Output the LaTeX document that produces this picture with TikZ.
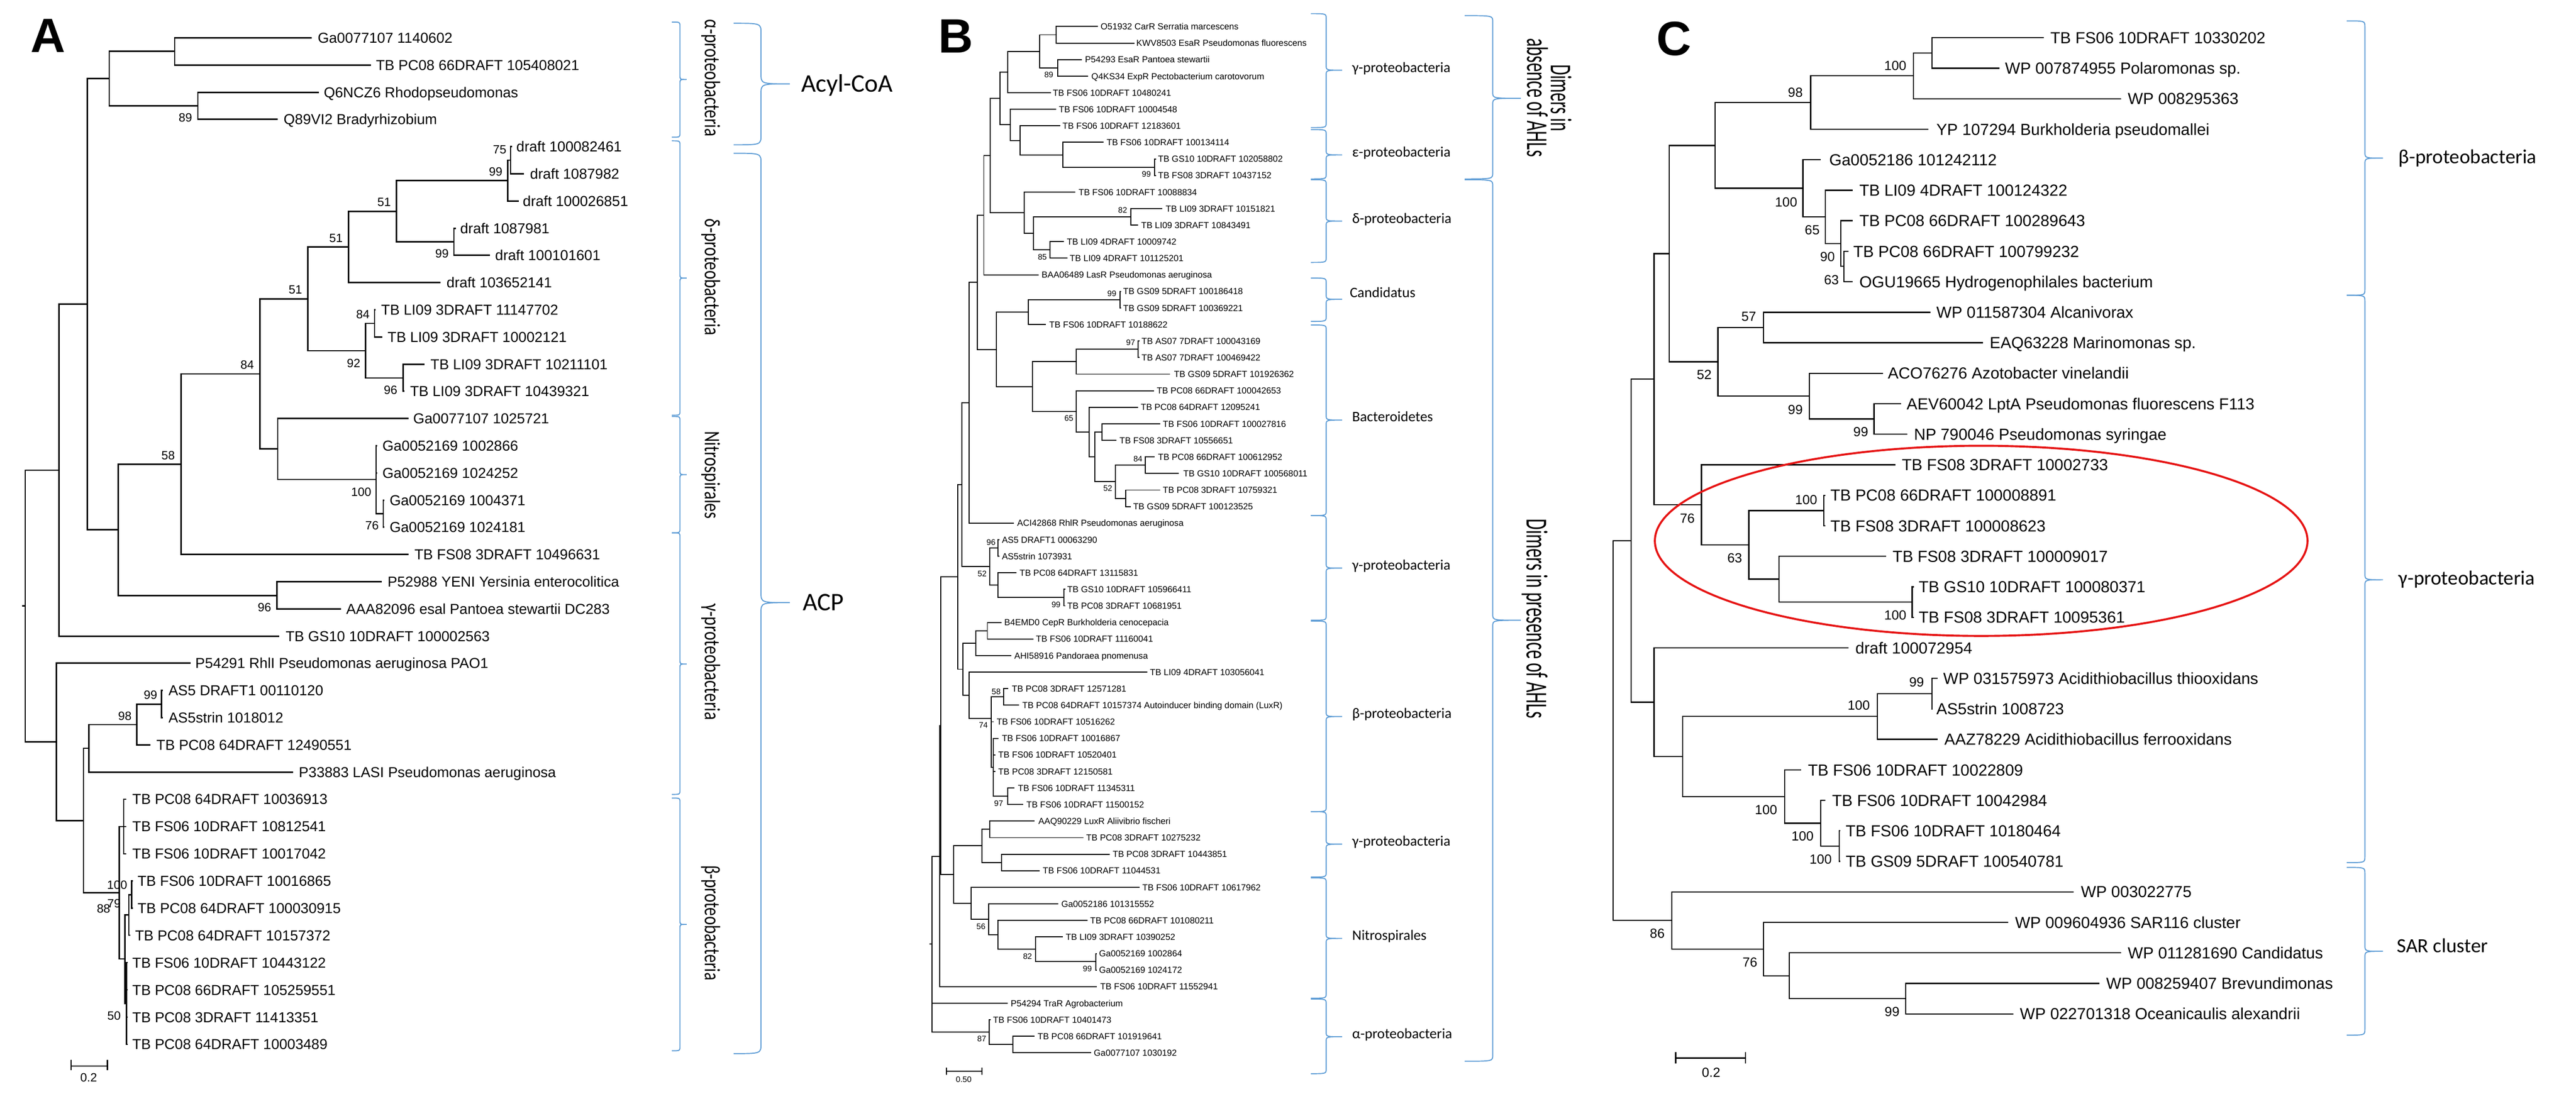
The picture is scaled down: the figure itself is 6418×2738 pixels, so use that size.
\documentclass[tikz,border=0pt]{standalone}
\usepackage{fontspec}
\setmainfont{Liberation Sans}
\newfontfamily\calfont{Carlito}
\definecolor{brblue}{RGB}{91,155,213}
\definecolor{ovred}{RGB}{230,20,20}
\newcommand\Lf[6]{\coordinate (#2) at (#3,#4); \node[#1] (#2l) at (#5,#4) {#6};}
\newcommand\Nd[3]{\coordinate (#1) at (#2,#3);}
\newcommand\Cn[2]{\foreach \ch in {#2}{\draw (#1) |- (\ch);}}
\newcommand\Bs[5]{\node[#1] (#2) at (#3,#4) {#5};}
\newcommand\RBr[7]{\draw[brk] (#1,#2) .. controls ({#1+#4},#2) .. ({#1+#4},{#2+#6}) -- ({#1+#4},{#7-#6}) .. controls ({#1+#4},#7) .. ({#1+#4+#5},#7) .. controls ({#1+#4},#7) .. ({#1+#4},{#7+#6}) -- ({#1+#4},{#3-#6}) .. controls ({#1+#4},#3) .. (#1,#3);}
\tikzset{
 lA/.style={anchor=west,inner sep=0pt,text height=5.16pt,text depth=0pt,font=\fontsize{7.2}{8.6}\selectfont},
 lB/.style={anchor=west,inner sep=0pt,text height=3.15pt,text depth=0pt,font=\fontsize{4.4}{5.3}\selectfont},
 lC/.style={anchor=west,inner sep=0pt,text height=5.73pt,text depth=0pt,font=\fontsize{8}{9.6}\selectfont},
 bsA/.style={inner sep=0pt,text height=4.3pt,text depth=0pt,font=\fontsize{6}{7}\selectfont},
 bsB/.style={inner sep=0pt,text height=2.86pt,text depth=0pt,font=\fontsize{4}{5}\selectfont},
 bsC/.style={inner sep=0pt,text height=4.73pt,text depth=0pt,font=\fontsize{6.6}{8}\selectfont},
 brk/.style={draw=brblue,line width=0.5pt},
 grpB/.style={anchor=base west,inner sep=0pt,font=\calfont\fontsize{7.2}{8.6}\selectfont},
 grpC/.style={anchor=base west,inner sep=0pt,font=\calfont\fontsize{10}{12}\selectfont},
 rotA/.style={rotate=-90,anchor=base,inner sep=0pt,font=\calfont\fontsize{11}{13}\selectfont},
 rotB/.style={rotate=-90,anchor=base,inner sep=0pt,font=\calfont\fontsize{15.2}{18}\selectfont},
 rotBb/.style={rotate=-90,anchor=base,inner sep=0pt,font=\calfont\fontsize{15}{18}\selectfont},
 panel/.style={inner sep=0pt,font=\bfseries\fontsize{24}{28}\selectfont},
 outerA/.style={anchor=west,inner sep=0pt,text height=8.1pt,text depth=0pt,font=\calfont\fontsize{12.6}{15}\selectfont},
}
\begin{document}
\begin{tikzpicture}[x=0.2pt,y=-0.2pt,line join=miter]
\useasboundingbox (0,0) rectangle (6418,2738);
\fill[white] (0,0) rectangle (6418,2738);
% ================= PANEL A =================
\node[panel] (pA) at (120,89) {A};
\begin{scope}[line width=0.7pt]
\Lf{lA}{a0}{777}{94}{790}{Ga0077107 1140602}
\Lf{lA}{a1}{924}{162}{935}{TB PC08 66DRAFT 105408021}
\Lf{lA}{a2}{794}{230}{805}{Q6NCZ6 Rhodopseudomonas}
\Lf{lA}{a3}{692}{297}{705}{Q89VI2 Bradyrhizobium}
\Lf{lA}{a4}{1276}{365}{1285}{draft 100082461}
\Lf{lA}{a5}{1305}{433}{1319}{draft 1087982}
\Lf{lA}{a6}{1292}{501}{1301}{draft 100026851}
\Lf{lA}{a7}{1136}{569}{1145}{draft 1087981}
\Lf{lA}{a8}{1221}{636}{1232}{draft 100101601}
\Lf{lA}{a9}{1098}{704}{1111}{draft 103652141}
\Lf{lA}{a10}{936}{772}{948}{TB LI09 3DRAFT 11147702}
\Lf{lA}{a11}{953}{840}{964}{TB LI09 3DRAFT 10002121}
\Lf{lA}{a12}{1058}{908}{1071}{TB LI09 3DRAFT 10211101}
\Lf{lA}{a13}{1008}{975}{1020}{TB LI09 3DRAFT 10439321}
\Lf{lA}{a14}{1018}{1043}{1028}{Ga0077107 1025721}
\Lf{lA}{a15}{940}{1111}{951}{Ga0052169 1002866}
\Lf{lA}{a16}{940}{1179}{951}{Ga0052169 1024252}
\Lf{lA}{a17}{958}{1247}{969}{Ga0052169 1004371}
\Lf{lA}{a18}{958}{1314}{969}{Ga0052169 1024181}
\Lf{lA}{a19}{1018}{1382}{1031}{TB FS08 3DRAFT 10496631}
\Lf{lA}{a20}{951}{1450}{964}{P52988 YENI Yersinia enterocolitica}
\Lf{lA}{a21}{850}{1518}{861}{AAA82096 esal Pantoea stewartii DC283}
\Lf{lA}{a22}{696}{1586}{710}{TB GS10 10DRAFT 100002563}
\Lf{lA}{a23}{475}{1653}{485}{P54291 RhlI Pseudomonas aeruginosa PAO1}
\Lf{lA}{a24}{406}{1721}{418}{AS5 DRAFT1 00110120}
\Lf{lA}{a25}{406}{1789}{418}{AS5strin 1018012}
\Lf{lA}{a26}{375}{1857}{388}{TB PC08 64DRAFT 12490551}
\Lf{lA}{a27}{730}{1925}{743}{P33883 LASI Pseudomonas aeruginosa}
\Lf{lA}{a28}{315}{1992}{328}{TB PC08 64DRAFT 10036913}
\Lf{lA}{a29}{315}{2060}{328}{TB FS06 10DRAFT 10812541}
\Lf{lA}{a30}{315}{2128}{328}{TB FS06 10DRAFT 10017042}
\Lf{lA}{a31}{331}{2196}{341}{TB FS06 10DRAFT 10016865}
\Lf{lA}{a32}{331}{2264}{341}{TB PC08 64DRAFT 100030915}
\Lf{lA}{a33}{325}{2331}{335}{TB PC08 64DRAFT 10157372}
\Lf{lA}{a34}{318}{2399}{328}{TB FS06 10DRAFT 10443122}
\Lf{lA}{a35}{318}{2467}{328}{TB PC08 66DRAFT 105259551}
\Lf{lA}{a36}{318}{2535}{328}{TB PC08 3DRAFT 11413351}
\Lf{lA}{a37}{318}{2603}{328}{TB PC08 64DRAFT 10003489}
\Nd{an1}{435}{128} \Cn{an1}{a0,a1}
\Nd{an2}{493}{264} \Cn{an2}{a2,a3}
\Nd{an3}{272}{196} \Cn{an3}{an1,an2}
\Nd{an4}{1272}{399} \Cn{an4}{a4,a5}
\Nd{an5}{1265}{450} \Cn{an5}{an4,a6}
\Nd{an6}{1131}{603} \Cn{an6}{a7,a8}
\Nd{an7}{988}{527} \Cn{an7}{an5,an6}
\Nd{an8}{868}{615} \Cn{an8}{an7,a9}
\Nd{an9}{933}{806} \Cn{an9}{a10,a11}
\Nd{an10}{1004}{942} \Cn{an10}{a12,a13}
\Nd{an11}{911}{874} \Cn{an11}{an9,an10}
\Nd{an12}{767}{745} \Cn{an12}{an8,an11}
\Nd{an13}{955}{1280} \Cn{an13}{a17,a18}
\Nd{an14}{937}{1195} \Cn{an14}{a15,a16,an13}
\Nd{an15}{692}{1119} \Cn{an15}{a14,an14}
\Nd{an16}{648}{932} \Cn{an16}{an12,an15}
\Nd{an17}{451}{1157} \Cn{an17}{an16,a19}
\Nd{an18}{690}{1484} \Cn{an18}{a20,a21}
\Nd{an19}{295}{1320} \Cn{an19}{an17,an18}
\Nd{an20}{218}{758} \Cn{an20}{an3,an19}
\Nd{an21}{147}{1172} \Cn{an21}{an20,a22}
\Nd{an22}{402}{1755} \Cn{an22}{a24,a25}
\Nd{an23}{341}{1806} \Cn{an23}{an22,a26}
\Nd{an24}{221}{1865} \Cn{an24}{an23,a27}
\Nd{an25}{308}{2060} \Cn{an25}{a28,a29,a30}
\Nd{an26}{328}{2230} \Cn{an26}{a31,a32}
\Nd{an27}{321}{2280} \Cn{an27}{an26,a33}
\Nd{an28}{315}{2501} \Cn{an28}{a34,a35,a36,a37}
\Nd{an29}{311}{2390} \Cn{an29}{an27,an28}
\Nd{an30}{297}{2225} \Cn{an30}{an25,an29}
\Nd{an31}{208}{2045} \Cn{an31}{an24,an30}
\Nd{an32}{141}{1849} \Cn{an32}{a23,an31}
\Nd{anr}{63}{1510} \Cn{anr}{an21,an32}
\coordinate (anrs) at (55,1510); \draw (anr) -- (anrs);
% scale bar A
\coordinate (sA1) at (177,2657); \coordinate (sA2) at (268,2657);
\coordinate (sA1t) at (177,2641); \coordinate (sA1b) at (177,2667);
\coordinate (sA2t) at (268,2641); \coordinate (sA2b) at (268,2667);
\draw (sA1) -- (sA2); \draw (sA1t) -- (sA1b); \draw (sA2t) -- (sA2b);
\end{scope}
\node[bsA] (sAl) at (221,2686) {0.2};
\Bs{bsA}{bA1}{462}{293}{89}
\Bs{bsA}{bA2}{1245}{373}{75}
\Bs{bsA}{bA3}{1235}{427}{99}
\Bs{bsA}{bA4}{957}{503}{51}
\Bs{bsA}{bA5}{1101}{632}{99}
\Bs{bsA}{bA6}{837}{593}{51}
\Bs{bsA}{bA7}{736}{721}{51}
\Bs{bsA}{bA8}{904}{783}{84}
\Bs{bsA}{bA9}{881}{905}{92}
\Bs{bsA}{bA10}{616}{909}{84}
\Bs{bsA}{bA11}{973}{972}{96}
\Bs{bsA}{bA12}{419}{1135}{58}
\Bs{bsA}{bA13}{900}{1226}{100}
\Bs{bsA}{bA14}{927}{1310}{76}
\Bs{bsA}{bA15}{659}{1514}{96}
\Bs{bsA}{bA16}{375}{1732}{99}
\Bs{bsA}{bA17}{311}{1784}{98}
\Bs{bsA}{bA18}{292}{2205}{100}
\Bs{bsA}{bA19}{258}{2264}{88}
\Bs{bsA}{bA20}{284}{2252}{79}
\Bs{bsA}{bA21}{284}{2531}{50}
% brackets A
\RBr{1674}{55}{342}{20}{17}{10}{198}
\RBr{1674}{351}{1035}{20}{17}{10}{693}
\RBr{1674}{1038}{1328}{20}{17}{10}{1183}
\RBr{1674}{1328}{1980}{20}{17}{10}{1655}
\RBr{1674}{1989}{2619}{20}{17}{10}{2304}
\RBr{1828}{58}{361}{68}{72}{25}{209}
\RBr{1828}{382}{2626}{68}{72}{25}{1502}
\node[rotA] (gA1) at (1757,194) {\resizebox{58.4pt}{\height}{α-proteobacteria}};
\node[rotA] (gA2) at (1757,691) {\resizebox{58.2pt}{\height}{δ-proteobacteria}};
\node[rotA] (gA3) at (1757,1184) {\resizebox{43.6pt}{\height}{Nitrospirales}};
\node[rotA] (gA4) at (1757,1650) {\resizebox{57.8pt}{\height}{γ-proteobacteria}};
\node[rotA] (gA5) at (1757,2300) {\resizebox{57.4pt}{\height}{β-proteobacteria}};
\node[outerA] (gA6) at (1995,209) {Acyl-CoA};
\node[outerA] (gA7) at (1999,1502) {ACP};
% ================= PANEL B =================
\node[panel] (pB) at (2382,90) {B};
\begin{scope}[line width=0.5pt]
\Lf{lB}{b1}{2735}{66}{2741}{O51932 CarR Serratia marcescens}
\Lf{lB}{b2}{2826}{107.3}{2830}{KWV8503 EsaR Pseudomonas fluorescens}
\Lf{lB}{b3}{2695}{148.5}{2702}{P54293 EsaR Pantoea stewartii}
\Lf{lB}{b4}{2711}{189.8}{2718}{Q4KS34 ExpR Pectobacterium carotovorum}
\Lf{lB}{b5}{2618}{231}{2622}{TB FS06 10DRAFT 10480241}
\Lf{lB}{b6}{2631}{272.3}{2637}{TB FS06 10DRAFT 10004548}
\Lf{lB}{b7}{2641}{313.6}{2646}{TB FS06 10DRAFT 12183601}
\Lf{lB}{b8}{2750}{354.8}{2756}{TB FS06 10DRAFT 100134114}
\Lf{lB}{b9}{2880}{396.1}{2884}{TB GS10 10DRAFT 102058802}
\Lf{lB}{b10}{2880}{437.3}{2884}{TB FS08 3DRAFT 10437152}
\Lf{lB}{b11}{2679}{478.6}{2686}{TB FS06 10DRAFT 10088834}
\Lf{lB}{b12}{2896}{519.9}{2903}{TB LI09 3DRAFT 10151821}
\Lf{lB}{b13}{2836}{561.1}{2842}{TB LI09 3DRAFT 10843491}
\Lf{lB}{b14}{2651}{602.4}{2657}{TB LI09 4DRAFT 10009742}
\Lf{lB}{b15}{2660}{643.6}{2664}{TB LI09 4DRAFT 101125201}
\Lf{lB}{b16}{2588}{684.9}{2594}{BAA06489 LasR Pseudomonas aeruginosa}
\Lf{lB}{b17}{2793}{726.2}{2797}{TB GS09 5DRAFT 100186418}
\Lf{lB}{b18}{2793}{767.4}{2797}{TB GS09 5DRAFT 100369221}
\Lf{lB}{b19}{2606}{808.7}{2613}{TB FS06 10DRAFT 10188622}
\Lf{lB}{b20}{2839}{849.9}{2843}{TB AS07 7DRAFT 100043169}
\Lf{lB}{b21}{2839}{891.2}{2843}{TB AS07 7DRAFT 100469422}
\Lf{lB}{b22}{2915}{932.5}{2924}{TB GS09 5DRAFT 101926362}
\Lf{lB}{b23}{2875}{973.7}{2881}{TB PC08 66DRAFT 100042653}
\Lf{lB}{b24}{2835}{1015}{2841}{TB PC08 64DRAFT 12095241}
\Lf{lB}{b25}{2890}{1056.2}{2896}{TB FS06 10DRAFT 100027816}
\Lf{lB}{b26}{2782}{1097.5}{2788}{TB FS08 3DRAFT 10556651}
\Lf{lB}{b27}{2877}{1138.8}{2884}{TB PC08 66DRAFT 100612952}
\Lf{lB}{b28}{2937}{1180}{2947}{TB GS10 10DRAFT 100568011}
\Lf{lB}{b29}{2890}{1221.3}{2896}{TB PC08 3DRAFT 10759321}
\Lf{lB}{b30}{2817}{1262.5}{2822}{TB GS09 5DRAFT 100123525}
\Lf{lB}{b31}{2526}{1303.8}{2533}{ACI42868 RhlR Pseudomonas aeruginosa}
\Lf{lB}{b32}{2490}{1345.1}{2495}{AS5 DRAFT1 00063290}
\Lf{lB}{b33}{2490}{1386.3}{2495}{AS5strin 1073931}
\Lf{lB}{b34}{2533}{1427.6}{2539}{TB PC08 64DRAFT 13115831}
\Lf{lB}{b35}{2654}{1468.8}{2658}{TB GS10 10DRAFT 105966411}
\Lf{lB}{b36}{2654}{1510.1}{2658}{TB PC08 3DRAFT 10681951}
\Lf{lB}{b37}{2495}{1551.4}{2501}{B4EMD0 CepR Burkholderia cenocepacia}
\Lf{lB}{b38}{2575}{1592.6}{2580}{TB FS06 10DRAFT 11160041}
\Lf{lB}{b39}{2520}{1633.9}{2526}{AHI58916 Pandoraea pnomenusa}
\Lf{lB}{b40}{2858}{1675.1}{2864}{TB LI09 4DRAFT 103056041}
\Lf{lB}{b41}{2512}{1716.4}{2520}{TB PC08 3DRAFT 12571281}
\Lf{lB}{b42}{2539}{1757.7}{2546}{TB PC08 64DRAFT 10157374 Autoinducer binding domain (LuxR)}
\Lf{lB}{b43}{2476}{1798.9}{2482}{TB FS06 10DRAFT 10516262}
\Lf{lB}{b44}{2488}{1840.2}{2495}{TB FS06 10DRAFT 10016867}
\Lf{lB}{b45}{2480}{1881.4}{2486}{TB FS06 10DRAFT 10520401}
\Lf{lB}{b46}{2480}{1922.7}{2486}{TB PC08 3DRAFT 12150581}
\Lf{lB}{b47}{2527}{1964}{2535}{TB FS06 10DRAFT 11345311}
\Lf{lB}{b48}{2549}{2005.2}{2556}{TB FS06 10DRAFT 11500152}
\Lf{lB}{b49}{2577}{2046.5}{2586}{AAQ90229 LuxR Aliivibrio fischeri}
\Lf{lB}{b50}{2699}{2087.7}{2705}{TB PC08 3DRAFT 10275232}
\Lf{lB}{b51}{2765}{2129}{2771}{TB PC08 3DRAFT 10443851}
\Lf{lB}{b52}{2590}{2170.3}{2597}{TB FS06 10DRAFT 11044531}
\Lf{lB}{b53}{2839}{2211.5}{2845}{TB FS06 10DRAFT 10617962}
\Lf{lB}{b54}{2637}{2252.8}{2643}{Ga0052186 101315552}
\Lf{lB}{b55}{2709}{2294}{2715}{TB PC08 66DRAFT 101080211}
\Lf{lB}{b56}{2648}{2335.3}{2654}{TB LI09 3DRAFT 10390252}
\Lf{lB}{b57}{2733}{2376.6}{2737}{Ga0052169 1002864}
\Lf{lB}{b58}{2733}{2417.8}{2737}{Ga0052169 1024172}
\Lf{lB}{b59}{2733}{2459.1}{2740}{TB FS06 10DRAFT 11552941}
\Lf{lB}{b60}{2511}{2500.3}{2517}{P54294 TraR Agrobacterium}
\Lf{lB}{b61}{2468}{2541.6}{2473}{TB FS06 10DRAFT 10401473}
\Lf{lB}{b62}{2577}{2582.9}{2584}{TB PC08 66DRAFT 101919641}
\Lf{lB}{b63}{2718}{2624.1}{2724}{Ga0077107 1030192}
\Nd{bn1}{2631}{86.6} \Cn{bn1}{b1,b2}
\Nd{bn2}{2635}{169} \Cn{bn2}{b3,b4}
\Nd{bn3}{2590}{128} \Cn{bn3}{bn1,bn2}
\Nd{bn4}{2511}{180} \Cn{bn4}{bn3,b5}
\Nd{bn5}{2877}{417} \Cn{bn5}{b9,b10}
\Nd{bn6}{2648}{386} \Cn{bn6}{b8,bn5}
\Nd{bn7}{2542}{350} \Cn{bn7}{b7,bn6}
\Nd{bn8}{2517}{311} \Cn{bn8}{b6,bn7}
\Nd{bn9}{2491}{245.5} \Cn{bn9}{bn4,bn8}
\Nd{bn10}{2817}{540.5} \Cn{bn10}{b12,b13}
\Nd{bn11}{2616}{623} \Cn{bn11}{b14,b15}
\Nd{bn12}{2575}{582} \Cn{bn12}{bn10,bn11}
\Nd{bn13}{2552}{530} \Cn{bn13}{b11,bn12}
\Nd{bn14}{2467}{388} \Cn{bn14}{bn9,bn13}
\Nd{bn15}{2451}{536} \Cn{bn15}{bn14,b16}
\Nd{bn16}{2790}{747} \Cn{bn16}{b17,b18}
\Nd{bn17}{2562}{778} \Cn{bn17}{bn16,b19}
\Nd{bn18}{2836}{870.5} \Cn{bn18}{b20,b21}
\Nd{bn19}{2682}{901.5} \Cn{bn19}{bn18,b22}
\Nd{bn20}{2746}{1077} \Cn{bn20}{b25,b26}
\Nd{bn21}{2854}{1159} \Cn{bn21}{b27,b28}
\Nd{bn22}{2805}{1242} \Cn{bn22}{b29,b30}
\Nd{bn23}{2779}{1200} \Cn{bn23}{bn21,bn22}
\Nd{bn24}{2728}{1138.5} \Cn{bn24}{bn20,bn23}
\Nd{bn25}{2714}{1077} \Cn{bn25}{b24,bn24}
\Nd{bn26}{2682}{1025} \Cn{bn26}{b23,bn25}
\Nd{bn27}{2572}{963.5} \Cn{bn27}{bn19,bn26}
\Nd{bn28}{2482}{871} \Cn{bn28}{bn17,bn27}
\Nd{bn29}{2435}{703.5} \Cn{bn29}{bn15,bn28}
\Nd{bn30}{2414}{1004} \Cn{bn30}{bn29,b31}
\Nd{bn31}{2486}{1365.7} \Cn{bn31}{b32,b33}
\Nd{bn32}{2651}{1489.5} \Cn{bn32}{b35,b36}
\Nd{bn33}{2486}{1458.5} \Cn{bn33}{b34,bn32}
\Nd{bn34}{2466}{1412} \Cn{bn34}{bn31,bn33}
\Nd{bn35}{2396}{1208} \Cn{bn35}{bn30,bn34}
\Nd{bn36}{2460}{1572} \Cn{bn36}{b37,b38}
\Nd{bn37}{2431}{1603} \Cn{bn37}{bn36,b39}
\Nd{bn38}{2501}{1737} \Cn{bn38}{b41,b42}
\Nd{bn39}{2511}{1984.6} \Cn{bn39}{b47,b48}
\Nd{bn40}{2475}{1912} \Cn{bn40}{b44,b45,b46,bn39}
\Nd{bn41}{2469}{1790} \Cn{bn41}{bn38,b43,bn40}
\Nd{bn42}{2414}{1733} \Cn{bn42}{b40,bn41}
\Nd{bn43}{2399}{1668} \Cn{bn43}{bn37,bn42}
\Nd{bn44}{2386}{1438} \Cn{bn44}{bn35,bn43}
\Nd{bn45}{2466}{2067} \Cn{bn45}{b49,b50}
\Nd{bn46}{2495}{2150} \Cn{bn46}{b51,b52}
\Nd{bn47}{2447}{2108} \Cn{bn47}{bn45,bn46}
\Nd{bn48}{2730}{2397} \Cn{bn48}{b57,b58}
\Nd{bn49}{2580}{2366} \Cn{bn49}{b56,bn48}
\Nd{bn50}{2486}{2330} \Cn{bn50}{b55,bn49}
\Nd{bn51}{2463}{2291} \Cn{bn51}{b54,bn50}
\Nd{bn52}{2419}{2251} \Cn{bn52}{b53,bn51}
\Nd{bn53}{2376}{2180} \Cn{bn53}{bn47,bn52}
\Nd{bn54}{2344}{1809} \Cn{bn54}{bn44,bn53}
\Nd{bn55}{2341}{2134} \Cn{bn55}{bn54,b59}
\Nd{bn56}{2524}{2603.5} \Cn{bn56}{b62,b63}
\Nd{bn57}{2465}{2572.5} \Cn{bn57}{b61,bn56}
\Nd{bnr}{2322}{2353} \Cn{bnr}{bn55,b60,bn57}
\coordinate (bnrs) at (2316,2353); \draw (bnr) -- (bnrs);
\coordinate (sB1) at (2358,2670); \coordinate (sB2) at (2447,2670);
\coordinate (sB1t) at (2358,2661); \coordinate (sB1b) at (2358,2679);
\coordinate (sB2t) at (2447,2661); \coordinate (sB2b) at (2447,2679);
\draw (sB1) -- (sB2); \draw (sB1t) -- (sB1b); \draw (sB2t) -- (sB2b);
\end{scope}
\node[bsB] (sBl) at (2401,2690) {0.50};
\Bs{bsB}{bB1}{2613}{186}{89}
\Bs{bsB}{bB2}{2856}{434}{99}
\Bs{bsB}{bB3}{2797}{523}{82}
\Bs{bsB}{bB4}{2597}{641}{85}
\Bs{bsB}{bB5}{2770}{731}{99}
\Bs{bsB}{bB6}{2817}{854}{97}
\Bs{bsB}{bB7}{2663}{1042}{65}
\Bs{bsB}{bB8}{2835}{1144}{84}
\Bs{bsB}{bB9}{2760}{1217}{52}
\Bs{bsB}{bB10}{2469}{1351}{96}
\Bs{bsB}{bB11}{2447}{1430}{52}
\Bs{bsB}{bB12}{2631}{1507}{99}
\Bs{bsB}{bB13}{2482}{1724}{58}
\Bs{bsB}{bB14}{2450}{1807}{74}
\Bs{bsB}{bB15}{2488}{2002}{97}
\Bs{bsB}{bB16}{2444}{2309}{56}
\Bs{bsB}{bB17}{2560}{2383}{82}
\Bs{bsB}{bB18}{2709}{2414}{99}
\Bs{bsB}{bB19}{2446}{2589}{87}
% brackets B
\RBr{3266}{34}{318}{38}{40}{12}{175}
\RBr{3266}{323}{446}{38}{40}{12}{386}
\RBr{3266}{448}{654}{38}{40}{12}{551}
\RBr{3266}{693}{801}{38}{40}{12}{746}
\RBr{3266}{810}{1285}{38}{40}{12}{1047}
\RBr{3266}{1285}{1546}{38}{40}{12}{1416}
\RBr{3266}{1548}{2023}{38}{40}{12}{1786}
\RBr{3266}{2023}{2186}{38}{40}{12}{2104}
\RBr{3266}{2188}{2488}{38}{40}{12}{2339}
\RBr{3266}{2490}{2676}{38}{40}{12}{2584}
\RBr{3649}{39}{446}{70}{70}{15}{245}
\RBr{3649}{448}{2645}{70}{70}{15}{1546}
\node[grpB] (gB1) at (3368,180) {γ-proteobacteria};
\node[grpB] (gB2) at (3368,391) {ε-proteobacteria};
\node[grpB] (gB3) at (3368,556) {δ-proteobacteria};
\node[grpB] (gB4) at (3362,741) {Candidatus};
\node[grpB] (gB5) at (3368,1050) {Bacteroidetes};
\node[grpB] (gB6) at (3368,1420) {γ-proteobacteria};
\node[grpB] (gB7) at (3368,1790) {β-proteobacteria};
\node[grpB] (gB8) at (3368,2108) {γ-proteobacteria};
\node[grpB] (gB9) at (3368,2343) {Nitrospirales};
\node[grpB] (gB10) at (3368,2588) {α-proteobacteria};
\node[rotBb] (gB11) at (3864,244) {\resizebox{33.2pt}{\height}{Dimers in}};
\node[rotBb] (gB12) at (3805,243) {\resizebox{59.2pt}{\height}{absence of AHLs}};
\node[rotB] (gB13) at (3804,1542) {\resizebox{99.4pt}{\height}{Dimers in presence of AHLs}};
% ================= PANEL C =================
\node[panel] (pC) at (4171,97) {C};
\begin{scope}[line width=0.6pt]
\Lf{lC}{c1}{5092}{94}{5107}{TB FS06 10DRAFT 10330202}
\Lf{lC}{c2}{4982}{170}{4994}{WP 007874955 Polaromonas sp.}
\Lf{lC}{c3}{5285}{246.1}{5300}{WP 008295363}
\Lf{lC}{c4}{4805}{322.1}{4823}{YP 107294 Burkholderia pseudomallei}
\Lf{lC}{c5}{4536}{398.1}{4556}{Ga0052186 101242112}
\Lf{lC}{c6}{4616}{474.2}{4631}{TB LI09 4DRAFT 100124322}
\Lf{lC}{c7}{4616}{550.2}{4631}{TB PC08 66DRAFT 100289643}
\Lf{lC}{c8}{4606}{626.2}{4616}{TB PC08 66DRAFT 100799232}
\Lf{lC}{c9}{4616}{702.2}{4631}{OGU19665 Hydrogenophilales bacterium}
\Lf{lC}{c10}{4810}{778.3}{4823}{WP 011587304 Alcanivorax}
\Lf{lC}{c11}{4941}{854.3}{4956}{EAQ63228 Marinomonas sp.}
\Lf{lC}{c12}{4692}{930.3}{4702}{ACO76276 Azotobacter vinelandii}
\Lf{lC}{c13}{4737}{1006.4}{4749}{AEV60042 LptA Pseudomonas fluorescens F113}
\Lf{lC}{c14}{4752}{1082.4}{4767}{NP 790046 Pseudomonas syringae}
\Lf{lC}{c15}{4722}{1158.4}{4737}{TB FS08 3DRAFT 10002733}
\Lf{lC}{c16}{4548}{1234.5}{4559}{TB PC08 66DRAFT 100008891}
\Lf{lC}{c17}{4548}{1310.5}{4559}{TB FS08 3DRAFT 100008623}
\Lf{lC}{c18}{4699}{1386.5}{4714}{TB FS08 3DRAFT 100009017}
\Lf{lC}{c19}{4768}{1462.6}{4779}{TB GS10 10DRAFT 100080371}
\Lf{lC}{c20}{4768}{1538.6}{4779}{TB FS08 3DRAFT 10095361}
\Lf{lC}{c21}{4606}{1614.6}{4621}{draft 100072954}
\Lf{lC}{c22}{4828}{1690.7}{4840}{WP 031575973 Acidithiobacillus thiooxidans}
\Lf{lC}{c23}{4815}{1766.7}{4823}{AS5strin 1008723}
\Lf{lC}{c24}{4828}{1842.7}{4843}{AAZ78229 Acidithiobacillus ferrooxidans}
\Lf{lC}{c25}{4488}{1918.8}{4503}{TB FS06 10DRAFT 10022809}
\Lf{lC}{c26}{4548}{1994.8}{4563}{TB FS06 10DRAFT 10042984}
\Lf{lC}{c27}{4585}{2070.8}{4597}{TB FS06 10DRAFT 10180464}
\Lf{lC}{c28}{4585}{2146.8}{4597}{TB GS09 5DRAFT 100540781}
\Lf{lC}{c29}{5167}{2222.9}{5183}{WP 003022775}
\Lf{lC}{c30}{5004}{2298.9}{5019}{WP 009604936 SAR116 cluster}
\Lf{lC}{c31}{5285}{2374.9}{5300}{WP 011281690 Candidatus}
\Lf{lC}{c32}{5231}{2451}{5246}{WP 008259407 Brevundimonas}
\Lf{lC}{c33}{5016}{2527}{5031}{WP 022701318 Oceanicaulis alexandrii}
\Nd{cn1}{4813}{132} \Cn{cn1}{c1,c2}
\Nd{cn2}{4767}{189} \Cn{cn2}{cn1,c3}
\Nd{cn3}{4511}{255.5} \Cn{cn3}{cn2,c4}
\Nd{cn4}{4594}{664} \Cn{cn4}{c8,c9}
\Nd{cn5}{4586}{607} \Cn{cn5}{c7,cn4}
\Nd{cn6}{4548}{540.5} \Cn{cn6}{c6,cn5}
\Nd{cn7}{4492}{469} \Cn{cn7}{c5,cn6}
\Nd{cn8}{4273}{362.5} \Cn{cn8}{cn3,cn7}
\Nd{cn9}{4394}{816} \Cn{cn9}{c10,c11}
\Nd{cn10}{4669}{1044} \Cn{cn10}{c13,c14}
\Nd{cn11}{4508}{987} \Cn{cn11}{c12,cn10}
\Nd{cn12}{4280}{901.5} \Cn{cn12}{cn9,cn11}
\Nd{cn13}{4159}{632} \Cn{cn13}{cn8,cn12}
\Nd{cn14}{4544}{1272.5} \Cn{cn14}{c16,c17}
\Nd{cn15}{4764}{1500.6} \Cn{cn15}{c19,c20}
\Nd{cn16}{4432}{1443.5} \Cn{cn16}{c18,cn15}
\Nd{cn17}{4357}{1358} \Cn{cn17}{cn14,cn16}
\Nd{cn18}{4239}{1258} \Cn{cn18}{c15,cn17}
\Nd{cn19}{4121}{945} \Cn{cn19}{cn13,cn18}
\Nd{cn20}{4813}{1728.7} \Cn{cn20}{c22,c23}
\Nd{cn21}{4677}{1785.7} \Cn{cn21}{cn20,c24}
\Nd{cn22}{4582}{2108.8} \Cn{cn22}{c27,c28}
\Nd{cn23}{4536}{2051.8} \Cn{cn23}{c26,cn22}
\Nd{cn24}{4446}{1985.3} \Cn{cn24}{c25,cn23}
\Nd{cn25}{4192}{1885.5} \Cn{cn25}{cn21,cn24}
\Nd{cn26}{4121}{1750} \Cn{cn26}{c21,cn25}
\Nd{cn27}{4064}{1347.5} \Cn{cn27}{cn19,cn26}
\Nd{cn28}{4748}{2489} \Cn{cn28}{c32,c33}
\Nd{cn29}{4458}{2432} \Cn{cn29}{c31,cn28}
\Nd{cn30}{4394}{2365.5} \Cn{cn30}{c30,cn29}
\Nd{cn31}{4165}{2294} \Cn{cn31}{c29,cn30}
\Nd{cnr}{4019}{1821} \Cn{cnr}{cn27,cn31}
\coordinate (sC1) at (4175,2637); \coordinate (sC2) at (4349,2637);
\coordinate (sC1t) at (4175,2622); \coordinate (sC1b) at (4175,2650);
\coordinate (sC2t) at (4349,2622); \coordinate (sC2b) at (4349,2650);
\draw (sC1) -- (sC2); \draw (sC1t) -- (sC1b); \draw (sC2t) -- (sC2b);
\end{scope}
\node[bsC] (sCl) at (4263,2673) {0.2};
\Bs{bsC}{bC1}{4722}{164}{100}
\Bs{bsC}{bC2}{4473}{230}{98}
\Bs{bsC}{bC3}{4450}{503}{100}
\Bs{bsC}{bC4}{4515}{573}{65}
\Bs{bsC}{bC5}{4553}{639}{90}
\Bs{bsC}{bC6}{4563}{697}{63}
\Bs{bsC}{bC7}{4357}{788}{57}
\Bs{bsC}{bC8}{4246}{933}{52}
\Bs{bsC}{bC9}{4473}{1021}{99}
\Bs{bsC}{bC10}{4636}{1076}{99}
\Bs{bsC}{bC11}{4500}{1245}{100}
\Bs{bsC}{bC12}{4204}{1291}{76}
\Bs{bsC}{bC13}{4322}{1391}{63}
\Bs{bsC}{bC14}{4722}{1533}{100}
\Bs{bsC}{bC15}{4775}{1700}{99}
\Bs{bsC}{bC16}{4631}{1758}{100}
\Bs{bsC}{bC17}{4400}{2018}{100}
\Bs{bsC}{bC18}{4491}{2084}{100}
\Bs{bsC}{bC19}{4536}{2141}{100}
\Bs{bsC}{bC20}{4129}{2326}{86}
\Bs{bsC}{bC21}{4360}{2398}{76}
\Bs{bsC}{bC22}{4714}{2521}{99}
\draw[ovred,line width=1pt] (4936,1348) ellipse [x radius=162.6pt, y radius=47.4pt];
\RBr{5847}{52}{736}{45}{45}{15}{394}
\RBr{5847}{736}{2150}{45}{45}{15}{1445}
\RBr{5847}{2162}{2580}{45}{45}{15}{2371}
\node[grpC] (gC1) at (5975,408) {β-proteobacteria};
\node[grpC] (gC2) at (5975,1458) {γ-proteobacteria};
\node[grpC] (gC3) at (5971,2374) {SAR cluster};
\end{tikzpicture}
\end{document}
